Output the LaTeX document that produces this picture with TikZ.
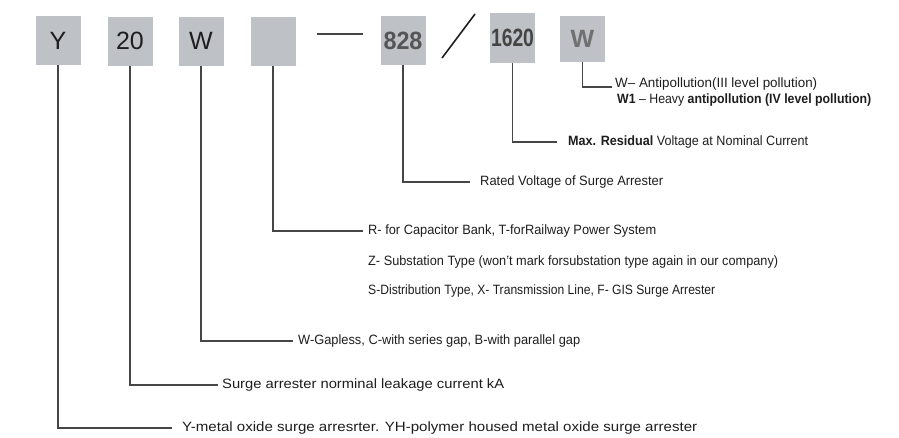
\documentclass[tikz,border=0pt]{standalone}
\usepackage{fontspec}
\setmainfont{Liberation Sans}
\usepackage{graphicx}
\definecolor{boxgray}{RGB}{190,194,198}
\definecolor{linegray}{RGB}{70,70,70}
\definecolor{txt}{RGB}{30,30,30}
\definecolor{numgray}{RGB}{85,85,85}
\definecolor{wgray}{RGB}{112,112,112}
\newcommand\fitto[2]{\resizebox{#1}{\height}{#2}}
\tikzset{
  codebox/.style={fill=boxgray, minimum width=45pt, minimum height=49pt, inner sep=0pt,
    font=\fontsize{25}{25}\selectfont, text=txt},
  lbl/.style={anchor=west, inner sep=0pt, font=\fontsize{13.5}{15}\selectfont, text=txt},
  conn/.style={draw=linegray, line width=1.2pt}
}
\begin{document}
\begin{tikzpicture}[x=1pt,y=-1pt]
\useasboundingbox (0,0) rectangle (899,437);
\fill[white] (0,0) rectangle (899,437);

% code boxes
\node[codebox] (bY) at (58,40.5) {Y};
\node[codebox] (b20) at (130,41) {20};
\node[codebox] (bW) at (201,41) {W};
\node[codebox] (bE) at (273,41) {};
\node[codebox, text=numgray] (b828) at (403,40.5) {\fitto{39pt}{\bfseries 828}};
\node[codebox, minimum height=50pt, text=numgray!80!black] (b1620) at (512.5,38) {\fitto{43pt}{\bfseries 1620}};
\node[codebox, minimum height=46pt, text=wgray] (bW2) at (582.5,39) {\bfseries W};

% separators
\draw[linegray, line width=1.5pt] (317,34) -- (363,34);
\draw[txt, line width=1.6pt] (442,58) -- (475,14);

% labels
\node[lbl] (tWa) at (615,84) {\fitto{202pt}{W-- Antipollution(III level pollution)}};
\node[lbl] (tWb) at (617,100) {\fitto{254pt}{{\bfseries W1} -- Heavy {\bfseries antipollution (IV level pollution)}}};
\node[lbl] (t1620) at (568,142) {\fitto{240pt}{{\bfseries Max. Residual} Voltage at Nominal Current}};
\node[lbl] (t828) at (480,182) {\fitto{183pt}{Rated Voltage of Surge Arrester}};
\node[lbl] (tE) at (368,231) {\fitto{288pt}{R- for Capacitor Bank, T-forRailway Power System}};
\node[lbl] (tZ) at (368,262) {\fitto{410pt}{Z- Substation Type (won't mark forsubstation type again in our company)}};
\node[lbl] (tS) at (368,291) {\fitto{347pt}{S-Distribution Type, X- Transmission Line, F- GIS Surge Arrester}};
\node[lbl] (tW) at (298,341) {\fitto{282pt}{W-Gapless, C-with series gap, B-with parallel gap}};
\node[lbl] (t20) at (222,385) {\fitto{282pt}{Surge arrester norminal leakage current kA}};
\node[lbl] (tY) at (182,428) {\fitto{515pt}{Y-metal oxide surge arresrter. YH-polymer housed metal oxide surge arrester}};

% connectors
\draw[conn] (bW2.south) |- ([xshift=-3pt,yshift=-3pt]tWa.west);
\draw[conn] (b1620.south) |- ([xshift=-11pt]t1620.west);
\draw[conn] (b828.south) |- ([xshift=-10pt]t828.west);
\draw[conn] (bE.south) |- ([xshift=-5pt]tE.west);
\draw[conn] (bW.south) |- ([xshift=-5pt]tW.west);
\draw[conn] (b20.south) |- ([xshift=-4pt]t20.west);
\draw[conn] (bY.south) |- ([xshift=-10pt]tY.west);
\end{tikzpicture}
\end{document}
